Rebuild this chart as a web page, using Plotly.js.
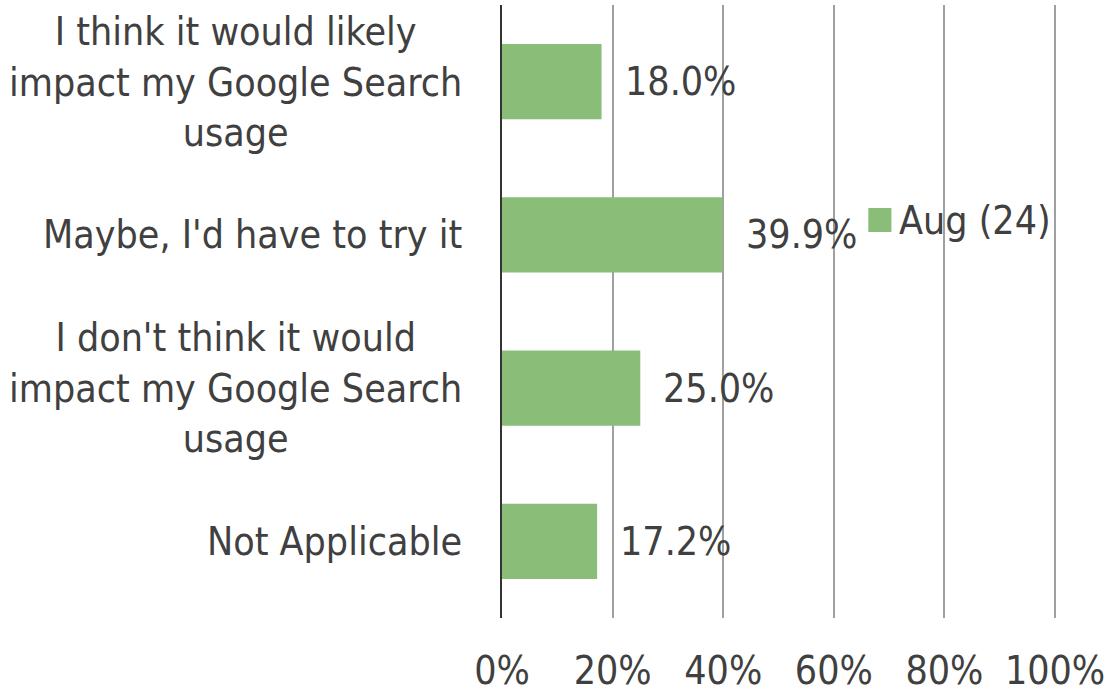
<!DOCTYPE html>
<html>
<head>
<meta charset="utf-8">
<script src="https://cdn.plot.ly/plotly-3.0.1.min.js"></script>
<style>html,body{margin:0;padding:0;background:#fff;}#chart{width:1114px;height:694px;}</style>
</head>
<body>
<div id="chart"></div>
<script>
const categories = [
  "I think it would likely impact my Google Search usage",
  "Maybe, I'd have to try it",
  "I don't think it would impact my Google Search usage",
  "Not Applicable"
];
const categoryLabels = [
  "I think it would likely<br>impact my Google Search<br>usage",
  "Maybe, I'd have to try it",
  "I don't think it would<br>impact my Google Search<br>usage",
  "Not Applicable"
];
const seriesName = "Aug (24)";
const values = [18.0, 39.9, 25.0, 17.2];
const xTickVals = [0, 20, 40, 60, 80, 100];
const xTickText = ["0%", "20%", "40%", "60%", "80%", "100%"];

const FONT = "DejaVu Sans Condensed, DejaVu Sans, sans-serif";
const TXT = "#404040";
const BAR = "#8abd78";
const FS = 39;

const trace = {
  type: "bar",
  orientation: "h",
  x: values,
  y: categories,
  name: seriesName,
  marker: {color: BAR},
  width: 0.49,
  hoverinfo: "x+y"
};

const annotations = [];
categories.forEach((c, i) => {
  annotations.push({
    xref: "paper", yref: "y", x: 0, y: c, xshift: -38,
    xanchor: "right", yanchor: "middle", align: "center",
    text: categoryLabels[i], showarrow: false,
    font: {family: FONT, size: FS, color: TXT}
  });
  annotations.push({
    xref: "x", yref: "y", x: values[i], y: c, xshift: 21,
    xanchor: "left", yanchor: "middle",
    text: values[i].toFixed(1) + "%", showarrow: false,
    font: {family: FONT, size: FS, color: TXT}
  });
});
// legend text
annotations.push({
  xref: "paper", yref: "paper", x: 0.7125, y: 0.649,
  xanchor: "left", yanchor: "middle",
  text: seriesName, showarrow: false,
  font: {family: FONT, size: FS, color: TXT}
});

const layout = {
  width: 1114, height: 694,
  margin: {l: 502, r: 57, t: 5, b: 76, pad: 0},
  paper_bgcolor: "#ffffff",
  plot_bgcolor: "#ffffff",
  showlegend: false,
  font: {family: FONT, size: FS, color: TXT},
  xaxis: {
    range: [0, 100.35],
    tickvals: xTickVals,
    ticktext: xTickText,
    showgrid: true,
    gridcolor: "#a0a0a0",
    gridwidth: 2,
    zeroline: false,
    showline: false,
    ticks: "",
    ticklabelstandoff: 26,
    tickfont: {family: FONT, size: FS, color: TXT},
    fixedrange: true
  },
  yaxis: {
    type: "category",
    categoryorder: "array",
    categoryarray: categories,
    range: [3.5, -0.5],
    showticklabels: false,
    showgrid: false,
    zeroline: false,
    showline: true,
    linecolor: "#333333",
    linewidth: 2,
    ticks: "",
    fixedrange: true
  },
  shapes: [{
    type: "rect", xref: "paper", yref: "paper",
    x0: 0.660, x1: 0.7016, y0: 0.6297, y1: 0.6688,
    fillcolor: BAR, line: {width: 0}
  }],
  annotations: annotations
};

Plotly.newPlot("chart", [trace], layout, {displayModeBar: false, staticPlot: true});
</script>
</body>
</html>
